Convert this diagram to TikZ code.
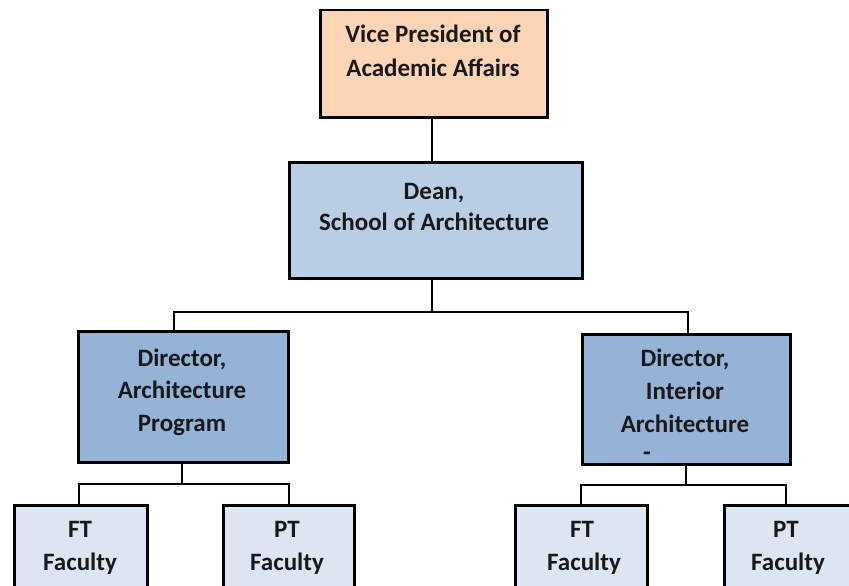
\documentclass[tikz,border=0pt]{standalone}
\usepackage{fontspec}
\setmainfont{Carlito}
\definecolor{vpfill}{RGB}{251,213,181}
\definecolor{deanfill}{RGB}{185,205,229}
\definecolor{dirfill}{RGB}{149,179,215}
\definecolor{facfill}{RGB}{220,230,242}
\tikzset{
  boxnode/.style={draw=black, line width=2.5pt, inner sep=0pt, anchor=north west},
  conn/.style={draw=black, line width=2.2pt},
  lbl/.style={anchor=base, inner sep=0pt, font=\fontsize{25}{30}\selectfont\bfseries, text=black!90}
}
\begin{document}
\begin{tikzpicture}[x=1pt,y=-1pt]
\useasboundingbox (0,0) rectangle (849,586);
\begin{scope}
\clip (0,0) rectangle (849,586);
% boxes
\node[boxnode, fill=vpfill, minimum width=227pt, minimum height=107pt] (vp) at (319,9) {};
\node[boxnode, fill=deanfill, minimum width=293pt, minimum height=116pt] (dean) at (288,161) {};
\node[boxnode, fill=dirfill, minimum width=210pt, minimum height=131pt] (dirL) at (77,330) {};
\node[boxnode, fill=dirfill, minimum width=208pt, minimum height=130pt] (dirR) at (581,333) {};
\node[boxnode, fill=facfill, minimum width=133pt, minimum height=110pt] (ftL) at (13,504) {};
\node[boxnode, fill=facfill, minimum width=131pt, minimum height=110pt] (ptL) at (222,504) {};
\node[boxnode, fill=facfill, minimum width=132pt, minimum height=110pt] (ftR) at (514,504) {};
\node[boxnode, fill=facfill, minimum width=132pt, minimum height=110pt] (ptR) at (723,504) {};
% junctions
\coordinate (j1) at (432,312);
\coordinate (j2) at (182,484);
\coordinate (j3) at (686,485);
% connectors
\draw[conn] (j1 |- vp.south) -- (j1 |- dean.north);
\draw[conn] (j1 |- dean.south) -- (j1);
\draw[conn] ([xshift=-9pt]dirL.north) |- (j1) -| ([xshift=2pt]dirR.north);
\draw[conn] (j2 |- dirL.south) -- (j2);
\draw[conn] ([xshift=-2pt]ftL.north) |- (j2) -| (ptL.north);
\draw[conn] (j3 |- dirR.south) -- (j3);
\draw[conn] (ftR.north) |- (j3) -| ([xshift=-4pt]ptR.north);
% labels
\node[lbl] (vp1) at (433,43) {Vice President of};
\node[lbl] (vp2) at (433,77) {Academic Affairs};
\node[lbl] (dean1) at (434,199) {Dean,};
\node[lbl] (dean2) at (434,230) {School of Architecture};
\node[lbl] (dl1) at (182,366) {Director,};
\node[lbl] (dl2) at (182,398) {Architecture};
\node[lbl] (dl3) at (182,431) {Program};
\node[lbl] (dr1) at (685,366) {Director,};
\node[lbl] (dr2) at (685,399) {Interior};
\node[lbl] (dr3) at (685,432) {Architecture};
\node[lbl] (dr4) at (647,460) {-};
\node[lbl] (ftl1) at (80,537) {FT};
\node[lbl] (ftl2) at (80,570) {Faculty};
\node[lbl] (ptl1) at (287,537) {PT};
\node[lbl] (ptl2) at (287,570) {Faculty};
\node[lbl] (ftr1) at (582,537) {FT};
\node[lbl] (ftr2) at (584,570) {Faculty};
\node[lbl] (ptr1) at (786,537) {PT};
\node[lbl] (ptr2) at (788,570) {Faculty};
\end{scope}
\end{tikzpicture}
\end{document}
